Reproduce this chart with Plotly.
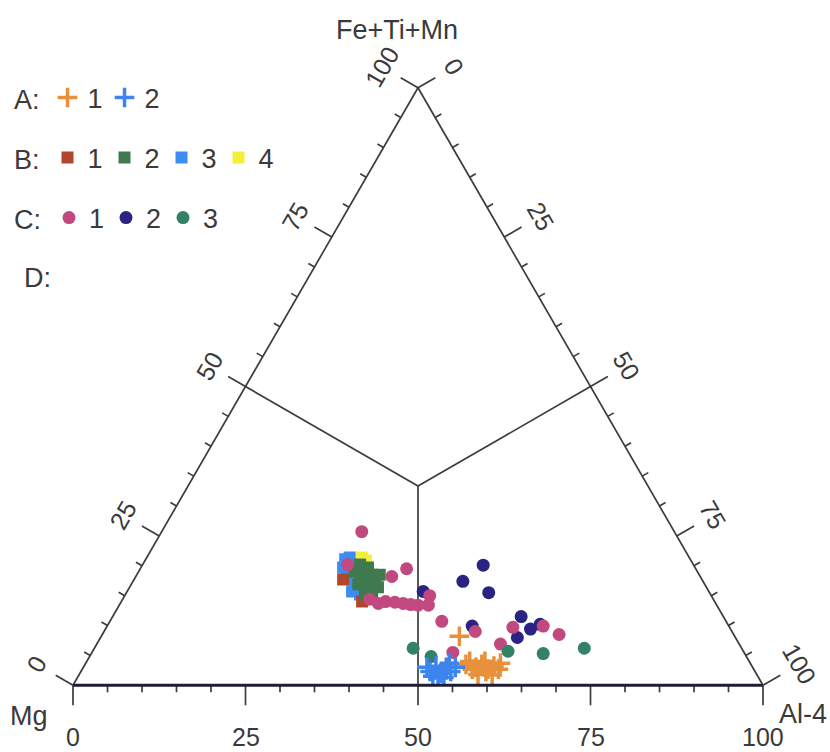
import math
import plotly.graph_objects as go

# ---------------- data (Fe+Ti+Mn = a, Mg = b, Al-4 = c ; percent) ----------------
A1_a = [8.2, 4.0, 3.0, 3.5, 2.7, 3.2, 1.8, 2.3, 1.7, 2.7, 2.7, 3.5, 4.0, 3.7]
A1_b = [39.9, 40.5, 40.1, 39.0, 38.5, 37.4, 40.4, 39.0, 38.4, 37.0, 40.8, 41.3, 38.3, 36.2]
A1_c = [51.9, 55.5, 56.9, 57.5, 58.8, 59.4, 57.8, 58.7, 59.9, 60.3, 56.5, 55.2, 57.7, 60.1]

A2_a = [2.3, 3.2, 2.0, 3.0, 2.3, 1.3, 1.2, 3.0, 1.5, 3.7, 3.0]
A2_b = [47.1, 45.8, 45.7, 44.4, 44.1, 45.6, 46.5, 43.1, 47.1, 43.6, 47.2]
A2_c = [50.6, 51.0, 52.3, 52.6, 53.6, 53.1, 52.3, 53.9, 51.4, 52.7, 49.8]

B1_a = [17.7, 14.0, 14.9]
B1_b = [52.0, 51.1, 50.1]
B1_c = [30.3, 34.9, 35.0]

B2_a = [20.2, 19.7, 18.5, 17.7, 17.4, 18.5, 16.0, 16.4, 15.2, 14.7, 16.9, 18.5, 19.0]
B2_b = [48.3, 47.4, 47.4, 48.8, 47.5, 49.2, 49.0, 47.6, 50.1, 49.3, 50.2, 46.3, 49.7]
B2_c = [31.5, 32.9, 34.1, 33.5, 35.1, 32.3, 35.0, 36.0, 34.7, 36.0, 32.9, 35.2, 31.3]

B3_a = [21.1, 21.4, 19.7, 19.4, 18.0, 16.9, 15.7, 15.2]
B3_b = [50.0, 49.2, 51.0, 49.9, 51.3, 50.7, 51.7, 50.8]
B3_c = [28.9, 29.4, 29.3, 30.7, 30.7, 32.4, 32.6, 34.0]

B4_a = [21.4, 20.9]
B4_b = [47.4, 47.1]
B4_c = [31.2, 32.0]

C1_a = [25.7, 20.2, 18.2, 19.5, 14.4, 13.7, 14.0, 13.9, 13.7, 13.5, 13.4, 13.4, 15.0, 10.7, 9.0, 5.5, 6.9, 9.7, 9.9, 8.5]
C1_b = [45.3, 50.1, 44.7, 41.9, 49.8, 48.9, 47.7, 46.4, 45.3, 44.3, 43.3, 41.8, 40.8, 41.2, 37.2, 42.2, 34.6, 31.4, 26.9, 25.3]
C1_c = [29.0, 29.7, 37.1, 38.6, 35.8, 37.4, 38.3, 39.7, 41.0, 42.2, 43.3, 44.8, 44.2, 48.1, 53.8, 52.3, 58.5, 58.9, 63.2, 66.2]

C2_a = [15.7, 20.1, 17.4, 15.5, 9.9, 11.5, 9.4, 10.2, 8.0]
C2_b = [41.4, 30.5, 34.8, 32.0, 37.2, 29.3, 29.0, 27.2, 31.6]
C2_c = [42.9, 49.4, 47.8, 52.5, 52.9, 59.2, 61.6, 62.6, 60.4]

C3_a = [6.2, 4.8, 5.7, 5.3, 6.2]
C3_b = [47.6, 45.7, 34.1, 29.2, 22.8]
C3_c = [46.2, 49.5, 60.2, 65.5, 71.0]

# field dividers: edge midpoints to centroid
third = 100 / 3
div_a = [[50, third], [50, third], [0, third]]
div_b = [[50, third], [0, third], [50, third]]
div_c = [[0, third], [50, third], [50, third]]

major_vals = [0, 25, 50, 75, 100]
major_text = ["0", "25", "50", "75", "100"]
minor_vals = list(range(0, 101, 5))

FONT = "Liberation Sans, Arial, Helvetica, sans-serif"
FS_TICK = 25
FS = 27
TXT = "#3a3a3a"
LINE = "#3c3c3c"
clear = "rgba(0,0,0,0)"

# page geometry (px); the ternary occupies a box, a hidden cartesian frame spans the page
W, H = 830, 752
TX0, TX1, TY0, TY1 = 73, 763, 87, 686        # ternary domain box (px)
S3 = math.sqrt(3) / 2
UNIT = (TX1 - TX0) / 100.0                   # px per unit (base = 100 units)
tri_h_px = (TX1 - TX0) * S3
bottom_px = TY0 + ((TY1 - TY0) - tri_h_px) / 2 + tri_h_px
x_lo, x_hi = -TX0 / UNIT, (W - TX0) / UNIT
y_lo, y_hi = -(H - bottom_px) / UNIT, bottom_px / UNIT


def px(x):
    return x / W


def py(y):
    return 1 - y / H


# tick geometry along the three edges: (base point, outward normal)
def edge_point(edge, v):
    if edge == "left":      # Fe+Ti+Mn, 0 at Mg corner, 100 at top
        return (v / 2, v * S3), (-S3, 0.5)
    if edge == "right":     # 0 at top, 100 at Al-4 corner
        return (50 + v / 2, (100 - v) * S3), (S3, 0.5)
    return (v, 0.0), (0.0, -1.0)  # bottom, 0 at Mg corner


tick_x, tick_y = [], []
for edge in ("left", "right", "bottom"):
    for v in minor_vals:
        (x0, y0), (nx, ny) = edge_point(edge, v)
        ln = (20 if v in major_vals else 7) / UNIT
        tick_x += [x0, x0 + nx * ln, None]
        tick_y += [y0, y0 + ny * ln, None]

fig = go.Figure()

fig.add_trace(go.Scatter(x=tick_x, y=tick_y, mode="lines",
                         line=dict(color=LINE, width=1.7),
                         showlegend=False, hoverinfo="skip", xaxis="x", yaxis="y"))

for da, db, dc in zip(div_a, div_b, div_c):
    fig.add_trace(go.Scatterternary(a=da, b=db, c=dc, mode="lines",
                                    line=dict(color=LINE, width=1.7),
                                    showlegend=False, hoverinfo="skip", subplot="ternary"))


def pts(a, b, c, name, legend, symbol, color, size, rank):
    if symbol == "cross-thin":
        marker = dict(symbol=symbol, size=size, line=dict(color=color, width=3.5), color=color)
    else:
        marker = dict(symbol=symbol, size=size, color=color, line=dict(width=0))
    return go.Scatterternary(a=a, b=b, c=c, mode="markers", name=name, marker=marker,
                             legend=legend, legendrank=rank, subplot="ternary",
                             hoverinfo="a+b+c+name")


ORANGE = "#E8913A"
BLUE_A = "#3D84EE"
RED = "#B2462B"
GREEN_B = "#3F7A4F"
BLUE_B = "#3C8CF2"
YELLOW = "#F3F03C"
PINK = "#C2497F"
NAVY = "#2B2383"
TEAL = "#338166"

fig.add_trace(pts(B3_a, B3_b, B3_c, "3", "legend2", "square", BLUE_B, 12, 3))
fig.add_trace(pts(B4_a, B4_b, B4_c, "4", "legend2", "square", YELLOW, 12, 4))
fig.add_trace(pts(B1_a, B1_b, B1_c, "1", "legend2", "square", RED, 12, 1))
fig.add_trace(pts(B2_a, B2_b, B2_c, "2", "legend2", "square", GREEN_B, 12, 2))
fig.add_trace(pts(C2_a, C2_b, C2_c, "2", "legend3", "circle", NAVY, 13, 2))
fig.add_trace(pts(C1_a, C1_b, C1_c, "1", "legend3", "circle", PINK, 13, 1))
fig.add_trace(pts(C3_a, C3_b, C3_c, "3", "legend3", "circle", TEAL, 13, 3))
fig.add_trace(pts(A1_a, A1_b, A1_c, "1", "legend", "cross-thin", ORANGE, 14, 1))
fig.add_trace(pts(A2_a, A2_b, A2_c, "2", "legend", "cross-thin", BLUE_A, 14, 2))


def tax(linewidth, linecolor):
    return dict(showgrid=False, ticks="", showticklabels=False, showline=True,
                linewidth=linewidth, linecolor=linecolor, title=dict(text=""))


tern = dict(sum=100, bgcolor=clear,
            domain=dict(x=[TX0 / W, TX1 / W], y=[1 - TY1 / H, 1 - TY0 / H]),
            aaxis=tax(1.7, LINE), baxis=tax(3, "#1d1d33"), caxis=tax(1.7, LINE))


def leg(title, y):
    return dict(title=dict(text=title, side="left", font=dict(family=FONT, size=FS, color=TXT)),
                orientation="h", xref="paper", yref="paper",
                x=px(12), y=py(y), xanchor="left", yanchor="middle",
                font=dict(family=FONT, size=FS, color=TXT), bgcolor=clear,
                entrywidth=12, entrywidthmode="pixels", itemwidth=30, traceorder="normal")


def ann(text, x, y):
    return dict(text=text, x=px(x), y=py(y), xref="paper", yref="paper",
                xanchor="center", yanchor="middle", showarrow=False,
                font=dict(family=FONT, size=FS, color=TXT))


annotations = [
    ann("Fe+Ti+Mn", 397, 30),
    ann("Mg", 29, 716),
    ann("Al-4", 803, 714),
    ann("D:", 37, 278),
]

# tick labels
LAB_SIDE = 42 / UNIT
LAB_BOTTOM = 52 / UNIT
for edge, ang, dist in (("left", -60, LAB_SIDE), ("right", 60, LAB_SIDE), ("bottom", 0, LAB_BOTTOM)):
    for v, t in zip(major_vals, major_text):
        (x0, y0), (nx, ny) = edge_point(edge, v)
        annotations.append(dict(text=t, x=x0 + nx * dist, y=y0 + ny * dist,
                                xref="x", yref="y", showarrow=False, textangle=ang,
                                xanchor="center", yanchor="middle",
                                font=dict(family=FONT, size=FS_TICK, color=TXT)))

fig.update_layout(
    width=W, height=H,
    paper_bgcolor="white", plot_bgcolor=clear,
    margin=dict(l=0, r=0, t=0, b=0, autoexpand=False),
    ternary=tern,
    xaxis=dict(range=[x_lo, x_hi], domain=[0, 1], visible=False, fixedrange=True),
    yaxis=dict(range=[y_lo, y_hi], domain=[0, 1], visible=False, fixedrange=True),
    legend=leg("A:", 98), legend2=leg("B:", 158), legend3=leg("C:", 218),
    showlegend=True,
    font=dict(family=FONT, color=TXT),
    annotations=annotations,
)

fig.write_html("out.html")
